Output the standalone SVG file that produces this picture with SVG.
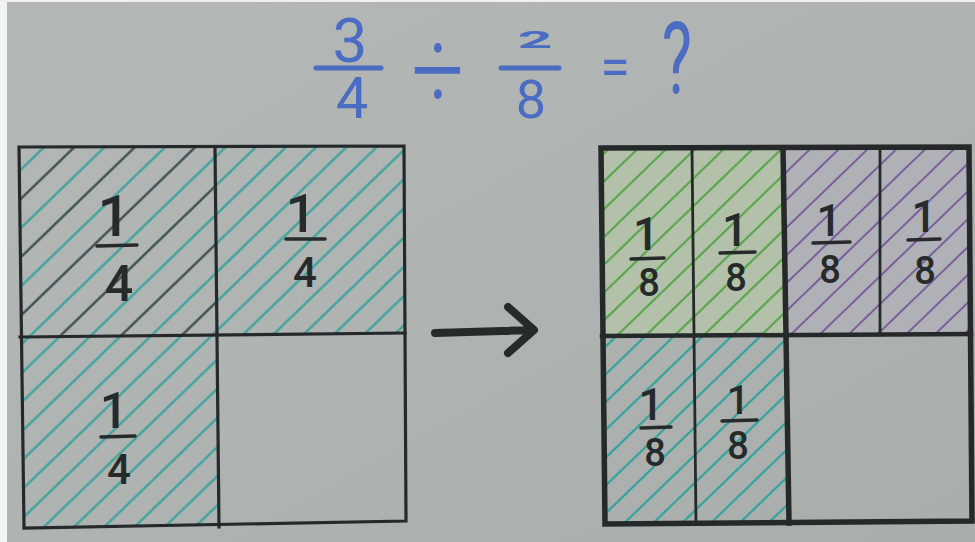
<svg xmlns="http://www.w3.org/2000/svg" width="975" height="542" viewBox="0 0 975 542">
<defs>
<linearGradient id="paper" x1="0" y1="0" x2="1" y2="1">
<stop offset="0" stop-color="#b3b7b5"/>
<stop offset="0.5" stop-color="#afb3b1"/>
<stop offset="1" stop-color="#a8aeac"/>
</linearGradient>
<pattern id="hTeal" patternUnits="userSpaceOnUse" width="10" height="21" patternTransform="rotate(-44)">
<line x1="0" y1="10.5" x2="10" y2="10.5" stroke="#37a19c" stroke-width="2.2"/>
</pattern>
<pattern id="hMix" patternUnits="userSpaceOnUse" width="10" height="42" patternTransform="rotate(-44)">
<line x1="0" y1="10.5" x2="10" y2="10.5" stroke="#37a19c" stroke-width="2.2"/>
<line x1="0" y1="31.5" x2="10" y2="31.5" stroke="#33464b" stroke-width="2.2"/>
</pattern>
<pattern id="hGreen" patternUnits="userSpaceOnUse" width="10" height="20" patternTransform="rotate(-44)">
<line x1="0" y1="10" x2="10" y2="10" stroke="#5aa54c" stroke-width="2.2"/>
</pattern>
<pattern id="hPurple" patternUnits="userSpaceOnUse" width="10" height="20" patternTransform="rotate(-44)">
<line x1="0" y1="10" x2="10" y2="10" stroke="#7d5e9c" stroke-width="2"/>
</pattern>
<pattern id="hTeal2" patternUnits="userSpaceOnUse" width="10" height="20" patternTransform="rotate(-44)">
<line x1="0" y1="10" x2="10" y2="10" stroke="#32a29b" stroke-width="2.2"/>
</pattern>
</defs>
<style>
.ink{fill:#262a2b;font-family:Roboto,"Open Sans","DejaVu Sans",sans-serif;font-weight:500;text-anchor:middle}
.blue{fill:#4a6cc2;font-family:Roboto,"Open Sans","DejaVu Sans",sans-serif;text-anchor:middle}
.bar{stroke:#262a2b;stroke-width:3.5;stroke-linecap:round}
.bbar{stroke:#4a6cc2;stroke-width:5;stroke-linecap:round}
.grid{fill:none;stroke:#25292a;stroke-linecap:square;stroke-linejoin:miter}
</style>
<rect width="975" height="542" fill="url(#paper)"/>
<rect x="0" y="0" width="7" height="542" fill="#f3f4f4"/>
<rect x="0" y="0" width="975" height="2" fill="#eef0ef"/>

<g id="equation">
<text class="blue" x="350" y="62" font-size="62">3</text>
<line class="bbar" x1="316" y1="68" x2="381" y2="68"/>
<text class="blue" x="352" y="118" font-size="58">4</text>
<text class="blue" x="438" y="91.7" font-size="62" font-weight="300" transform="translate(438,70) scale(1.5,1.9) translate(-438,-70)">÷</text>
<text class="blue" x="535" y="48" font-size="32" font-weight="700" transform="translate(535,48) scale(1.9,0.72) translate(-535,-48)">2</text>
<line class="bbar" x1="501" y1="68" x2="559" y2="68"/>
<text class="blue" x="531" y="118" font-size="54">8</text>
<text class="blue" x="615" y="86" font-size="54">=</text>
<text class="blue" x="677" y="93" font-size="100" transform="translate(677,0) scale(0.64,1) translate(-677,0)">?</text>
</g>

<g id="left-square">
<polygon points="19,147 215,147 217,336 20,337" fill="url(#hMix)"/>
<polygon points="215,147 404,146 405,333 217,335" fill="url(#hTeal)"/>
<polygon points="20,337 217,335 219,526 24,528" fill="url(#hTeal)"/>
<polygon class="grid" stroke-width="3.2" points="19,147 404,146 406,521 24,528"/>
<line class="grid" stroke-width="3.2" x1="215" y1="147" x2="219" y2="527"/>
<line class="grid" stroke-width="3.2" x1="20" y1="337" x2="405" y2="333"/>
<g id="l-q1">
<text class="ink" x="114" y="236" font-size="58">1</text>
<line class="bar" x1="97" y1="246" x2="137" y2="245"/>
<text class="ink" x="119" y="301" font-size="50">4</text>
</g>
<g id="l-q2">
<text class="ink" x="301" y="232" font-size="54">1</text>
<line class="bar" x1="286" y1="239" x2="325" y2="239"/>
<text class="ink" x="305" y="287" font-size="42">4</text>
</g>
<g id="l-q3">
<text class="ink" x="114" y="428" font-size="50">1</text>
<line class="bar" x1="101" y1="437" x2="135" y2="436"/>
<text class="ink" x="119" y="484" font-size="42">4</text>
</g>
</g>

<g id="connectors">
<path d="M435,333 L533,330 M508,307 L534,330 L508,353" fill="none" stroke="#262a2b" stroke-width="8" stroke-linecap="round" stroke-linejoin="round"/>
</g>

<g id="right-square">
<polygon points="601,148 692,148 694,336 603,336" fill="#b3c1aa"/>
<polygon points="692,148 783,148 786,336 694,336" fill="#b3c1aa"/>
<polygon points="783,148 880,148 880,335 786,335" fill="#b0b1b6"/>
<polygon points="880,148 969,147 970,334 880,335" fill="#b0b1b6"/>
<polygon points="601,148 692,148 694,336 603,336" fill="url(#hGreen)"/>
<polygon points="692,148 783,148 786,336 694,336" fill="url(#hGreen)"/>
<polygon points="783,148 880,148 880,335 786,335" fill="url(#hPurple)"/>
<polygon points="880,148 969,147 970,334 880,335" fill="url(#hPurple)"/>
<polygon points="603,336 695,336 696,523 605,524" fill="url(#hTeal2)"/>
<polygon points="695,336 786,336 789,523 696,523" fill="url(#hTeal2)"/>
<polygon class="grid" stroke-width="5.5" points="601,148 969,147 972,521 605,524"/>
<line class="grid" stroke-width="5.5" x1="783" y1="148" x2="789" y2="523"/>
<line class="grid" stroke-width="4.5" x1="602" y1="336" x2="971" y2="334"/>
<line class="grid" stroke-width="2.8" x1="692" y1="148" x2="696" y2="523"/>
<line class="grid" stroke-width="2.8" x1="880" y1="148" x2="880" y2="335"/>
<g id="r-c1">
<text class="ink" x="646" y="250" font-size="46">1</text>
<line class="bar" x1="631" y1="259" x2="664" y2="258"/>
<text class="ink" x="649" y="296" font-size="38">8</text>
</g>
<g id="r-c2">
<text class="ink" x="735" y="246" font-size="46">1</text>
<line class="bar" x1="720" y1="253" x2="755" y2="252"/>
<text class="ink" x="736" y="291" font-size="38">8</text>
</g>
<g id="r-c3">
<text class="ink" x="829" y="236" font-size="44">1</text>
<line class="bar" x1="813" y1="243" x2="850" y2="242"/>
<text class="ink" x="830" y="283" font-size="38">8</text>
</g>
<g id="r-c4">
<text class="ink" x="924" y="232" font-size="44">1</text>
<line class="bar" x1="908" y1="240" x2="940" y2="239"/>
<text class="ink" x="925" y="284" font-size="38">8</text>
</g>
<g id="r-c5">
<text class="ink" x="651" y="420" font-size="44">1</text>
<line class="bar" x1="641" y1="428" x2="671" y2="427"/>
<text class="ink" x="655" y="466" font-size="38">8</text>
</g>
<g id="r-c6">
<text class="ink" x="738" y="414" font-size="40">1</text>
<line class="bar" x1="722" y1="421" x2="757" y2="420"/>
<text class="ink" x="738" y="459" font-size="38">8</text>
</g>
</g>
</svg>
